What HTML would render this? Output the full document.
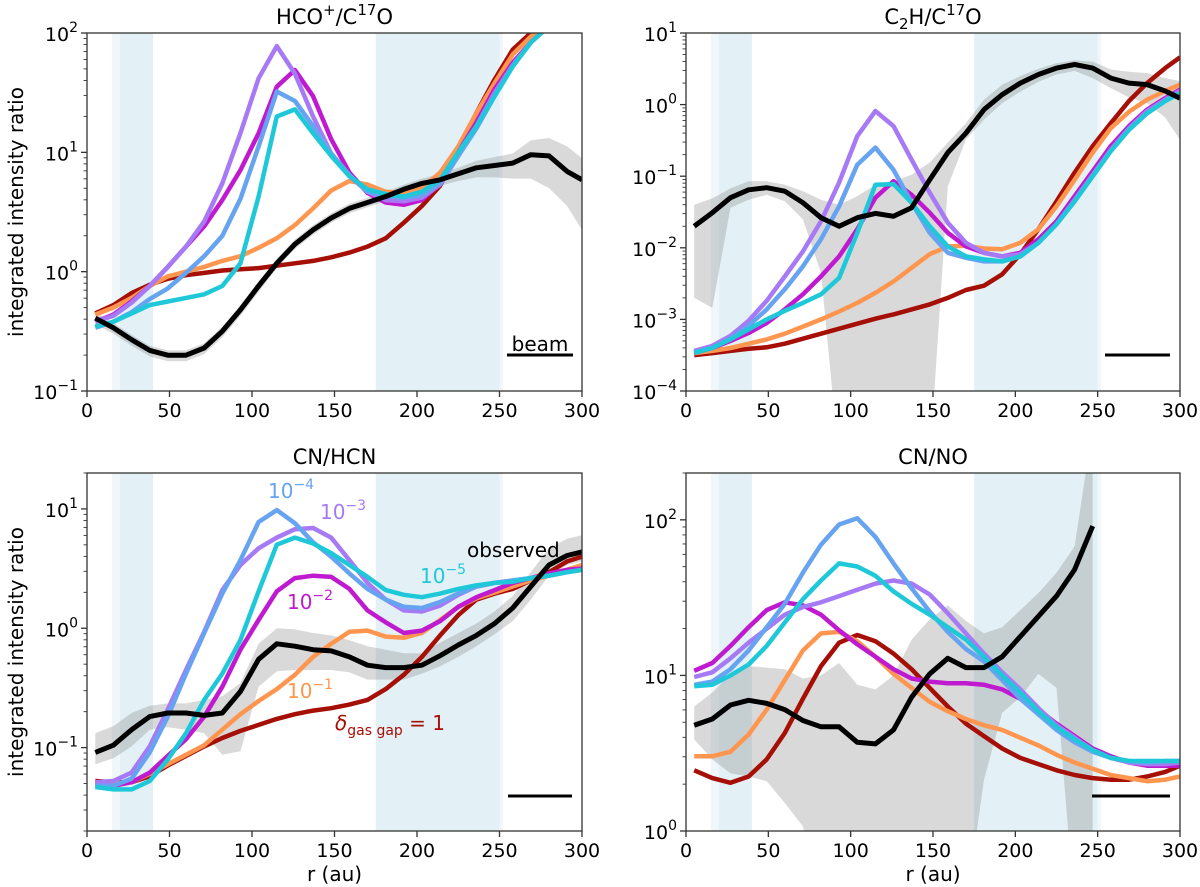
<!DOCTYPE html>
<html><head><meta charset="utf-8">
<style>
html,body{margin:0;padding:0;background:#fff;}
svg{display:block;font-family:"DejaVu Sans","Liberation Sans",sans-serif;}
</style></head>
<body>
<svg id="fig" width="1200" height="887" viewBox="0 0 1200 887" xmlns="http://www.w3.org/2000/svg"></svg>
<script>
// radii shared by all panels (au)
const radii = [5,16,27,38,49,60,71,82,93,104,115,126,137,148,159,170,181,192,203,214,225,236,247,258,269,280,291,300];
const seriesNames = ['delta-1','delta-1e-1','delta-1e-2','delta-1e-3','delta-1e-4','delta-1e-5'];

// ---- Panel 1: HCO+/C17O (log10 values)
const hcoObs = [-0.39,-0.47,-0.57,-0.66,-0.70,-0.70,-0.64,-0.50,-0.32,-0.12,0.07,0.23,0.35,0.45,0.53,0.58,0.63,0.69,0.74,0.77,0.82,0.87,0.89,0.91,0.98,0.97,0.84,0.77];
const hcoObsHi = [-0.34,-0.43,-0.53,-0.62,-0.66,-0.66,-0.60,-0.46,-0.28,-0.08,0.11,0.27,0.39,0.49,0.57,0.62,0.67,0.73,0.78,0.82,0.87,0.93,0.96,0.99,1.10,1.12,1.05,0.95];
const hcoObsLo = [-0.44,-0.52,-0.62,-0.71,-0.75,-0.75,-0.69,-0.55,-0.37,-0.17,0.03,0.19,0.31,0.41,0.49,0.54,0.59,0.64,0.69,0.72,0.76,0.79,0.79,0.78,0.78,0.70,0.55,0.35];
const hcoD1 = [-0.35,-0.28,-0.18,-0.11,-0.06,-0.03,-0.01,0.01,0.02,0.03,0.05,0.07,0.09,0.12,0.16,0.21,0.28,0.41,0.55,0.72,1.02,1.33,1.61,1.86,2.0,2.11,2.25,2.35];
const hcoD1e1 = [-0.36,-0.30,-0.22,-0.12,-0.04,0.0,0.04,0.09,0.13,0.20,0.28,0.39,0.53,0.68,0.76,0.73,0.67,0.66,0.70,0.83,1.05,1.33,1.58,1.82,1.97,2.08,2.2,2.3];
const hcoD1e2 = [-0.42,-0.36,-0.25,-0.12,0.04,0.21,0.38,0.60,0.85,1.16,1.55,1.69,1.47,1.11,0.83,0.66,0.58,0.56,0.60,0.74,1.0,1.25,1.53,1.75,1.92,2.06,2.2,2.3];
const hcoD1e3 = [-0.42,-0.37,-0.26,-0.12,0.04,0.21,0.42,0.74,1.16,1.62,1.89,1.66,1.30,0.99,0.80,0.67,0.60,0.59,0.62,0.73,0.97,1.22,1.50,1.73,1.92,2.06,2.2,2.3];
const hcoD1e4 = [-0.47,-0.42,-0.34,-0.23,-0.14,-0.01,0.13,0.30,0.61,1.05,1.51,1.43,1.22,0.99,0.81,0.67,0.63,0.62,0.64,0.74,0.97,1.20,1.47,1.72,1.92,2.06,2.2,2.3];
const hcoD1e5 = [-0.46,-0.42,-0.35,-0.28,-0.25,-0.22,-0.19,-0.12,0.07,0.63,1.30,1.36,1.16,0.97,0.80,0.69,0.65,0.63,0.67,0.77,1.0,1.22,1.47,1.72,1.92,2.06,2.2,2.3];

// ---- Panel 2: C2H/C17O
const c2hObs = [-1.70,-1.51,-1.30,-1.19,-1.16,-1.21,-1.37,-1.58,-1.70,-1.58,-1.52,-1.56,-1.44,-1.05,-0.67,-0.40,-0.07,0.14,0.30,0.42,0.51,0.56,0.51,0.37,0.30,0.28,0.19,0.09];
const c2hObsHi = [-1.40,-1.31,-1.17,-1.07,-1.07,-1.12,-1.21,-1.33,-1.40,-1.28,-1.12,-1.07,-0.98,-0.81,-0.53,-0.26,0.07,0.28,0.40,0.50,0.58,0.62,0.60,0.49,0.46,0.44,0.37,0.33];
const c2hObsLo = [-2.70,-2.84,-1.44,-1.33,-1.26,-1.35,-1.60,-2.35,-5,-5,-5,-5,-5,-5,-1.14,-0.49,-0.21,0.02,0.18,0.32,0.42,0.47,0.37,0.23,0.10,0.02,-0.18,-0.49];
const c2hD1 = [-3.50,-3.47,-3.44,-3.41,-3.39,-3.34,-3.27,-3.20,-3.13,-3.06,-2.99,-2.93,-2.86,-2.79,-2.70,-2.59,-2.53,-2.37,-2.09,-1.74,-1.35,-0.95,-0.58,-0.26,0.05,0.30,0.51,0.66];
const c2hD1e1 = [-3.47,-3.44,-3.40,-3.34,-3.28,-3.20,-3.10,-3.0,-2.89,-2.77,-2.63,-2.47,-2.28,-2.09,-1.98,-1.97,-2.01,-2.02,-1.93,-1.74,-1.42,-1.05,-0.67,-0.33,-0.10,0.07,0.19,0.28];
const c2hD1e2 = [-3.46,-3.40,-3.30,-3.19,-3.05,-2.86,-2.65,-2.40,-2.12,-1.74,-1.30,-1.07,-1.26,-1.51,-1.79,-1.98,-2.07,-2.12,-2.07,-1.88,-1.63,-1.28,-0.93,-0.58,-0.30,-0.07,0.09,0.21];
const c2hD1e3 = [-3.44,-3.37,-3.23,-3.02,-2.74,-2.40,-2.05,-1.63,-1.09,-0.44,-0.09,-0.30,-0.77,-1.23,-1.65,-1.93,-2.07,-2.12,-2.09,-1.93,-1.67,-1.33,-0.98,-0.63,-0.33,-0.09,0.07,0.19];
const c2hD1e4 = [-3.46,-3.40,-3.27,-3.09,-2.86,-2.58,-2.26,-1.88,-1.42,-0.84,-0.60,-0.91,-1.37,-1.79,-2.07,-2.14,-2.19,-2.19,-2.12,-1.93,-1.67,-1.35,-1.0,-0.65,-0.35,-0.12,0.05,0.16];
const c2hD1e5 = [-3.47,-3.40,-3.28,-3.14,-3.0,-2.88,-2.77,-2.65,-2.42,-1.79,-1.12,-1.11,-1.37,-1.70,-1.98,-2.12,-2.16,-2.19,-2.12,-1.93,-1.67,-1.35,-1.0,-0.65,-0.35,-0.12,0.05,0.16];

// ---- Panel 3: CN/HCN
const cnhObs = [-1.04,-0.98,-0.85,-0.74,-0.71,-0.71,-0.73,-0.71,-0.53,-0.26,-0.13,-0.15,-0.18,-0.19,-0.24,-0.31,-0.33,-0.33,-0.31,-0.23,-0.14,-0.06,0.04,0.17,0.35,0.53,0.61,0.64];
const cnhObsHi = [-0.88,-0.82,-0.71,-0.65,-0.63,-0.63,-0.60,-0.57,-0.46,-0.13,-0.0,-0.01,-0.04,-0.06,-0.10,-0.15,-0.18,-0.21,-0.21,-0.12,-0.04,0.04,0.14,0.27,0.47,0.67,0.75,0.78];
const cnhObsLo = [-1.14,-1.09,-0.99,-0.85,-0.83,-0.85,-0.88,-1.06,-1.03,-0.49,-0.36,-0.35,-0.35,-0.35,-0.37,-0.43,-0.43,-0.43,-0.38,-0.32,-0.24,-0.15,-0.05,0.06,0.24,0.44,0.53,0.56];
const cnhD1 = [-1.28,-1.29,-1.29,-1.24,-1.15,-1.07,-0.99,-0.92,-0.86,-0.81,-0.76,-0.72,-0.69,-0.67,-0.64,-0.60,-0.51,-0.39,-0.24,-0.06,0.11,0.24,0.29,0.33,0.40,0.47,0.56,0.60];
const cnhD1e1 = [-1.29,-1.30,-1.29,-1.22,-1.14,-1.06,-0.98,-0.85,-0.72,-0.61,-0.51,-0.39,-0.24,-0.13,-0.03,-0.02,-0.07,-0.08,-0.04,0.07,0.18,0.25,0.30,0.35,0.40,0.44,0.49,0.53];
const cnhD1e2 = [-1.31,-1.32,-1.29,-1.21,-1.07,-0.93,-0.74,-0.49,-0.18,0.07,0.31,0.42,0.44,0.43,0.33,0.15,0.05,-0.04,-0.02,0.06,0.18,0.26,0.32,0.38,0.42,0.46,0.49,0.50];
const cnhD1e3 = [-1.29,-1.28,-1.21,-0.99,-0.68,-0.35,-0.03,0.32,0.53,0.67,0.76,0.83,0.84,0.76,0.57,0.38,0.24,0.15,0.14,0.19,0.28,0.35,0.38,0.40,0.42,0.44,0.47,0.49];
const cnhD1e4 = [-1.32,-1.32,-1.26,-1.04,-0.74,-0.38,-0.04,0.29,0.57,0.89,0.99,0.88,0.72,0.60,0.46,0.33,0.24,0.18,0.17,0.22,0.29,0.35,0.38,0.40,0.42,0.44,0.47,0.49];
const cnhD1e5 = [-1.33,-1.35,-1.35,-1.28,-1.10,-0.88,-0.60,-0.38,-0.10,0.31,0.70,0.76,0.71,0.63,0.53,0.43,0.32,0.28,0.26,0.29,0.33,0.36,0.38,0.39,0.42,0.44,0.47,0.49];

// ---- Panel 4: CN/NO (observed ends at 247 au)
const cnoObs = [0.68,0.72,0.81,0.84,0.82,0.78,0.71,0.67,0.67,0.57,0.56,0.65,0.86,1.01,1.11,1.05,1.05,1.12,1.25,1.38,1.51,1.68,1.96];
const cnoObsHi = [0.80,0.89,1.01,1.06,1.05,1.04,0.98,1.00,1.08,0.94,0.91,1.0,1.23,1.36,1.45,1.35,1.27,1.31,1.42,1.53,1.66,1.83,2.6];
const cnoObsLo = [0.59,0.46,0.37,0.35,0.32,0.18,0.03,-0.5,-0.5,-0.5,-0.5,-0.5,-0.5,-0.5,-0.5,-0.5,0.33,0.76,0.86,1.01,0.92,-0.5,-0.5];
const cnoD1 = [0.39,0.34,0.31,0.35,0.46,0.63,0.85,1.06,1.21,1.26,1.22,1.14,1.04,0.92,0.80,0.69,0.61,0.53,0.47,0.43,0.39,0.36,0.34,0.33,0.33,0.35,0.38,0.42];
const cnoD1e1 = [0.48,0.48,0.51,0.62,0.78,0.97,1.16,1.27,1.28,1.22,1.12,1.01,0.92,0.83,0.77,0.72,0.68,0.65,0.60,0.55,0.49,0.44,0.40,0.36,0.34,0.32,0.33,0.35];
const cnoD1e2 = [1.03,1.08,1.19,1.31,1.42,1.47,1.45,1.39,1.29,1.20,1.12,1.04,0.98,0.96,0.95,0.95,0.94,0.91,0.85,0.78,0.69,0.61,0.53,0.48,0.44,0.42,0.42,0.42];
const cnoD1e3 = [0.99,1.02,1.11,1.21,1.30,1.39,1.44,1.47,1.51,1.55,1.59,1.61,1.59,1.52,1.40,1.27,1.14,1.02,0.91,0.79,0.68,0.60,0.52,0.47,0.44,0.43,0.43,0.44];
const cnoD1e4 = [0.94,0.96,1.04,1.16,1.31,1.46,1.66,1.84,1.97,2.01,1.89,1.72,1.56,1.41,1.28,1.17,1.09,0.97,0.85,0.75,0.65,0.57,0.51,0.47,0.45,0.44,0.45,0.45];
const cnoD1e5 = [0.93,0.94,1.0,1.07,1.19,1.34,1.49,1.61,1.72,1.70,1.64,1.54,1.46,1.39,1.31,1.23,1.12,1.00,0.89,0.77,0.67,0.59,0.52,0.47,0.45,0.45,0.45,0.45];

// x tick labels and gap regions
const xTicks = [0,50,100,150,200,250,300];
const gapBands = [[20,40],[175,250]];
const gapEdges = [[15,20],[250,252]];

const svg = document.getElementById('fig');
const NS = 'http://www.w3.org/2000/svg';
function mk(tag, attrs, parent){
  const e = document.createElementNS(NS, tag);
  for (const k in attrs) e.setAttribute(k, attrs[k]);
  (parent||svg).appendChild(e);
  return e;
}
const colors = ['#a50f05','#ff9650','#c01ad0','#a77af5','#66a3f0','#1ec8d8'];

function panel(cfg){
  const g = mk('g', {});
  
  
  const L=cfg.x0, R=cfg.x1, T=cfg.y0, B=cfg.y1;
  const xs = r => L + (r/300)*(R-L);
  const ys = lv => B - (lv - cfg.lmin)/(cfg.lmax-cfg.lmin)*(B-T);
  const cid = 'clip-'+cfg.name;
  const cp = mk('clipPath', {id:cid}, g);
  mk('rect', {x:L, y:T, width:R-L, height:B-T}, cp);
  const plot = mk('g', {'clip-path':'url(#'+cid+')'}, g);
  gapEdges.forEach(b=>{
    const r = mk('rect',{x:xs(b[0]),y:T,width:xs(b[1])-xs(b[0]),height:B-T,fill:'#eff7fa'},plot);
    
    
  });
  gapBands.forEach(b=>{
    const r = mk('rect',{x:xs(b[0]),y:T,width:xs(b[1])-xs(b[0]),height:B-T,fill:'#e3f1f6'},plot);
    
    
  });
  const n = cfg.obs.length;
  let d = '';
  for (let i=0;i<n;i++) d += (i?'L':'M')+xs(radii[i]).toFixed(1)+','+ys(cfg.hi[i]).toFixed(1);
  for (let i=n-1;i>=0;i--) d += 'L'+xs(radii[i]).toFixed(1)+','+ys(cfg.lo[i]).toFixed(1);
  const band = mk('path',{d:d+'Z',fill:'rgba(120,120,120,0.28)'},plot);
  
  
  cfg.models.forEach((arr,k)=>{
    const pts = arr.map((v,i)=>xs(radii[i]).toFixed(1)+','+ys(v).toFixed(1)).join(' ');
    const pl = mk('polyline',{points:pts,fill:'none',stroke:colors[k],'stroke-width':4.5,'stroke-linejoin':'round'},plot);
    
    
  });
  const pts = cfg.obs.map((v,i)=>xs(radii[i]).toFixed(1)+','+ys(v).toFixed(1)).join(' ');
  const ol = mk('polyline',{points:pts,fill:'none',stroke:'#000','stroke-width':5,'stroke-linejoin':'round'},plot);
  
  
  const fr = mk('rect',{x:L,y:T,width:R-L,height:B-T,fill:'none',stroke:'#333','stroke-width':1.3},g);
  
  
  xTicks.forEach(t=>{
    mk('line',{x1:xs(t),x2:xs(t),y1:B,y2:B+6,stroke:'#333','stroke-width':1.3},g);
    const tx = mk('text',{x:xs(t),y:B+26,'font-size':19,'text-anchor':'middle',fill:'#000'},g);
    tx.textContent = t;
    
    
  });
  for (let e=Math.ceil(cfg.lmin); e<=Math.floor(cfg.lmax); e++){
    mk('line',{x1:L-6,x2:L,y1:ys(e),y2:ys(e),stroke:'#333','stroke-width':1.3},g);
    const tx = mk('text',{x:L-9,y:ys(e)+8,'font-size':19,'text-anchor':'end',fill:'#000'},g);
    tx.textContent = '10';
    const sup = mk('tspan',{dy:-9,'font-size':14},tx);
    sup.textContent = e<0 ? '\u2212'+(-e) : String(e);
    
    
  }
  for (let e=Math.floor(cfg.lmin); e<cfg.lmax; e++){
    for (let m=2;m<10;m++){
      const lv = e+Math.log10(m);
      if (lv<cfg.lmin||lv>cfg.lmax) continue;
      mk('line',{x1:L-3.5,x2:L,y1:ys(lv),y2:ys(lv),stroke:'#333','stroke-width':0.9},g);
    }
  }
  const ti = mk('text',{x:(L+R)/2,y:T-9,'font-size':21,'text-anchor':'middle',fill:'#000'},g);
  ti.innerHTML = cfg.title;
  
  
  const bb = mk('line',{x1:cfg.beam[0],x2:cfg.beam[1],y1:cfg.beam[2],y2:cfg.beam[2],stroke:'#000','stroke-width':3},g);
  
  
  if (cfg.xlabel){
    const xl = mk('text',{x:(L+R)/2,y:B+50,'font-size':20,'text-anchor':'middle'},g);
    xl.textContent = 'r (au)';
    
    
  }
  if (cfg.ylabel){
    const cy=(T+B)/2;
    const yl = mk('text',{x:23,y:cy,'font-size':20,'text-anchor':'middle',transform:'rotate(-90 23 '+cy+')'},g);
    yl.textContent = 'integrated intensity ratio';
    
    
  }
  return g;
}

panel({name:'panel-hco-c17o',x0:87,x1:582,y0:33,y1:391,lmin:-1,lmax:2,title:'HCO<tspan dy="-9" font-size="15">+</tspan><tspan dy="9">/C</tspan><tspan dy="-9" font-size="15">17</tspan><tspan dy="9">O</tspan>',
  obs:hcoObs,hi:hcoObsHi,lo:hcoObsLo,models:[hcoD1,hcoD1e1,hcoD1e2,hcoD1e3,hcoD1e4,hcoD1e5],
  beam:[507,573,355],ylabel:true});
panel({name:'panel-c2h-c17o',x0:686,x1:1180,y0:33,y1:391,lmin:-4,lmax:1,title:'C<tspan dy="5" font-size="15">2</tspan><tspan dy="-5">H/C</tspan><tspan dy="-9" font-size="15">17</tspan><tspan dy="9">O</tspan>',
  obs:c2hObs,hi:c2hObsHi,lo:c2hObsLo,models:[c2hD1,c2hD1e1,c2hD1e2,c2hD1e3,c2hD1e4,c2hD1e5],beam:[1105,1170,355]});
panel({name:'panel-cn-hcn',x0:87,x1:582,y0:473,y1:831,lmin:Math.log10(0.02),lmax:Math.log10(20),title:'CN/HCN',
  obs:cnhObs,hi:cnhObsHi,lo:cnhObsLo,models:[cnhD1,cnhD1e1,cnhD1e2,cnhD1e3,cnhD1e4,cnhD1e5],beam:[508,572,796],ylabel:true,xlabel:true});
panel({name:'panel-cn-no',x0:686,x1:1180,y0:473,y1:831,lmin:0,lmax:Math.log10(200),title:'CN/NO',
  obs:cnoObs,hi:cnoObsHi,lo:cnoObsLo,models:[cnoD1,cnoD1e1,cnoD1e2,cnoD1e3,cnoD1e4,cnoD1e5],beam:[1092,1170,796],xlabel:true});

const notes = [
  ['10','\u22124','#66a3f0',268,498,'label-1e-4'],
  ['10','\u22123','#a77af5',320,519,'label-1e-3'],
  ['10','\u22125','#1ec8d8',420,583,'label-1e-5'],
  ['10','\u22122','#c01ad0',287,609,'label-1e-2'],
  ['10','\u22121','#ff9650',287,698,'label-1e-1']
];
notes.forEach(nt=>{
  const t = mk('text',{x:nt[3],y:nt[4],'font-size':20,fill:nt[2]});
  t.textContent = nt[0];
  const s = mk('tspan',{dy:-9,'font-size':14},t);
  s.textContent = nt[1];
  
  
});
const ob = mk('text',{x:467,y:557,'font-size':20,fill:'#000'});
ob.textContent='observed';


const dl = mk('text',{x:335,y:730,'font-size':20,fill:'#a50f05'});
dl.innerHTML='<tspan font-style="italic">δ</tspan><tspan dy="5" font-size="14">gas gap</tspan><tspan dy="-5"> = 1</tspan>';


const bm = mk('text',{x:540,y:351,'font-size':20,'text-anchor':'middle',fill:'#000'});
bm.textContent='beam';


</script>
</body></html>
